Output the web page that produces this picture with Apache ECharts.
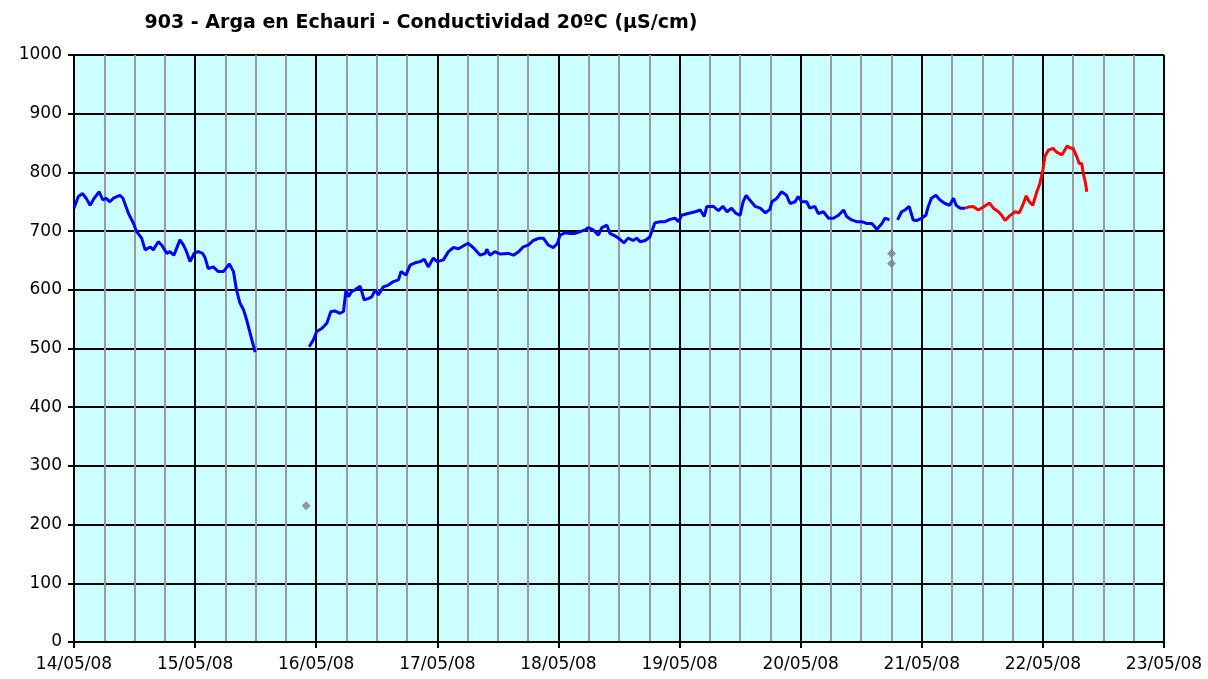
<!DOCTYPE html>
<html>
<head>
<meta charset="utf-8">
<script src="https://cdn.jsdelivr.net/npm/echarts@6/dist/echarts.min.js"></script>
<style>
  html, body { margin: 0; padding: 0; background: #fff; }
  #main { width: 1208px; height: 679px; }
</style>
</head>
<body>
<div id="main"></div>
<script>
// horas desde 14/05/08 00:00
var blueHours = [
  0, 0.85, 1.7, 2.4, 3.2, 4.0, 5.0, 5.7, 6.3, 7.1, 7.8, 9.1, 9.7, 10.8, 11.8, 12.4, 13.4, 14.1, 15.1, 15.7,
  16.7, 17.4, 18.4, 19.0, 19.8, 21.0, 21.7, 22.3, 23.0, 23.8, 24.6, 25.5, 26.0, 26.6, 27.6, 28.6, 29.6, 30.8,
  31.6, 32.2, 32.9, 33.6, 34.2, 34.9, 35.9,
  40,
  46.6, 47.4, 48.1, 49.1, 50.1, 50.9, 51.7, 52.7, 53.4, 53.9, 54.4, 55.0, 55.7, 56.7, 57.5, 58.3, 59.0, 59.7,
  60.3, 61.3, 62.3, 63.3, 64.3, 64.8, 65.8, 66.6, 67.6, 68.6, 69.4, 70.2, 71.2, 72.0, 73.2, 74.2, 75.2, 76.2,
  77.2, 78.1, 79.1, 80.5, 81.5, 81.8, 82.4, 83.4, 84.4, 86.1, 87.1, 88.1, 89.0, 90.0, 91.0, 92.2, 93.0, 94.0,
  95.0, 95.8, 96.3, 97.3, 98.3, 99.3, 100.3, 101.3, 101.9, 102.9, 103.9, 104.6, 105.6, 106.2, 107.2, 108.2,
  109.0, 109.8, 110.8, 111.5, 112.2, 113.2, 114.1, 115.1, 116.1, 117.1, 118.1, 119.1, 119.8, 120.4, 121.7,
  123.1, 124.1, 124.9, 125.4, 126.7, 127.7, 128.6, 129.4, 130.3, 131.2, 132.0, 132.6, 133.2, 134.0, 135.0,
  136.0, 137.0, 137.9, 138.3, 139.3, 140.2, 141.2, 141.9, 142.9, 143.5, 144.2, 145.2, 145.8, 146.8, 147.5,
  148.5, 149.5, 150.5, 151.5, 152.5, 153.1, 154.1, 155.1, 156.1, 157.1, 158.1, 159.1, 160.1, 160.7, 161.6,
  162.4,
  163.2, 164.0, 164.7, 165.5, 166.3, 167.0, 168.0, 168.8, 169.3, 169.9, 170.8, 171.6, 172.6, 173.5, 174.3,
  174.8, 175.6, 176.6
]
var blueValues = [
  739, 759, 764, 756, 744, 756, 767, 753, 756, 750, 756, 761, 756, 730, 713, 699, 688, 668, 673, 668,
  682, 676, 662, 665, 659, 685, 676, 665, 648, 662, 665, 662, 654, 636, 639, 631, 631, 644,
  631, 600, 577, 566, 549, 526, 494,
  null,
  503, 514, 529, 534, 543, 563, 564, 560, 563, 600, 588, 597, 600, 606, 583, 585, 588, 600,
  591, 605, 608, 614, 617, 631, 625, 642, 646, 648, 652, 639, 654, 648, 651, 665, 672, 670,
  675, 679, 672, 659, 662, 669, 659, 665, 661, 662, 659, 665, 673, 676, 684, 688, 688, 676,
  672, 679, 693, 697, 696, 696, 699, 702, 706, 702, 693, 706, 710, 696, 692, 686,
  680, 688, 684, 688, 682, 684, 690, 714, 716, 716, 720, 722, 716, 727, 730,
  733, 736, 725, 742, 742, 735, 742, 733, 739, 730, 727, 750, 761, 752, 742,
  739, 731, 737, 750, 756, 767, 761, 747, 750, 759, 750, 750, 739, 742, 730,
  733, 722, 722, 727, 736, 725, 719, 716, 716, 713, 713, 703, 713, 722, 719,
  null,
  719, 733, 736, 742, 719, 718, 722, 727, 742, 756, 761, 753, 747, 744, 756,
  744, 739, 739
]
var redHours = [
  176.6, 177.2, 178.2, 179.2, 180.2, 181.4, 182.2, 183.2, 183.9, 184.5, 185.4, 186.5, 187.3, 188.0, 188.7,
  189.3, 190.0, 190.8, 191.4, 192.0, 192.4, 193.1, 194.0, 194.8, 195.8, 196.8, 197.6, 198.0, 198.7, 199.2,
  199.7, 200.0, 200.4, 200.7
]
var redValues = [
  739, 741, 742, 736, 741, 748, 739, 733, 726, 718, 726, 733, 731, 744, 760,
  750, 744, 767, 781, 804, 827, 838, 841, 834, 830, 845, 841, 841, 827, 815,
  815, 798, 784, 767
]
// valores sueltos (rombos grises)
var pointHours = [46.0, 162.0, 162.0]
var pointValues = [232, 662, 645]

var dayLabels = ['14/05/08', '15/05/08', '16/05/08', '17/05/08', '18/05/08',
  '19/05/08', '20/05/08', '21/05/08', '22/05/08', '23/05/08']

function pairs(xs, ys) {
  return xs.map(function (x, i) { return [x, ys[i]] })
}

var myChart = echarts.init(document.getElementById('main'))
var option = {
  animation: false,
  title: {
    text: '903 - Arga en Echauri - Conductividad 20ºC (µS/cm)',
    left: 416,
    top: 9,
    textAlign: 'center',
    textStyle: {
      fontFamily: 'DejaVu Sans',
      fontWeight: 'bold',
      fontSize: 19,
      color: '#000'
    }
  },
  grid: {
    left: 74,
    right: 44,
    top: 55,
    bottom: 37
  },
  xAxis: {
    type: 'value',
    min: 0,
    max: 216,
    interval: 24,
    axisLine: { lineStyle: { color: '#000', width: 2 } },
    axisTick: { length: 6, lineStyle: { color: '#000', width: 2 } },
    axisLabel: {
      color: '#000',
      fontFamily: 'DejaVu Sans',
      fontSize: 17,
      margin: 14,
      formatter: function (v) { return dayLabels[Math.round(v / 24)] }
    },
    splitLine: { show: true, lineStyle: { color: '#000', width: 2 } },
    minorTick: { show: true, splitNumber: 4, length: 0 },
    minorSplitLine: { show: true, lineStyle: { color: '#9a9a9a', width: 2 } }
  },
  yAxis: {
    type: 'value',
    min: 0,
    max: 1000,
    interval: 100,
    axisLine: { show: true, lineStyle: { color: '#000', width: 2 } },
    axisTick: { show: true, length: 6, lineStyle: { color: '#000', width: 2 } },
    axisLabel: {
      color: '#000',
      fontFamily: 'DejaVu Sans',
      fontSize: 17,
      margin: 12,
      formatter: function (v) { return String(v) }
    },
    splitLine: { show: true, lineStyle: { color: '#000', width: 2 } },
    splitArea: { show: true, areaStyle: { color: ['#ccffff', '#ccffff'] } }
  },
  series: [
    {
      name: 'azul',
      type: 'line',
      data: pairs(blueHours, blueValues),
      showSymbol: false,
      connectNulls: false,
      lineStyle: { color: '#0000ff', width: 3 },
      itemStyle: { color: '#0000ff' }
    },
    {
      name: 'rojo',
      type: 'line',
      data: pairs(redHours, redValues),
      showSymbol: false,
      lineStyle: { color: '#ff0000', width: 3 },
      itemStyle: { color: '#ff0000' }
    },
    {
      name: 'puntos',
      type: 'scatter',
      data: pairs(pointHours, pointValues),
      symbol: 'diamond',
      symbolSize: 9,
      itemStyle: { color: '#808080' }
    }
  ]
}
myChart.setOption(option)
</script>
</body>
</html>
